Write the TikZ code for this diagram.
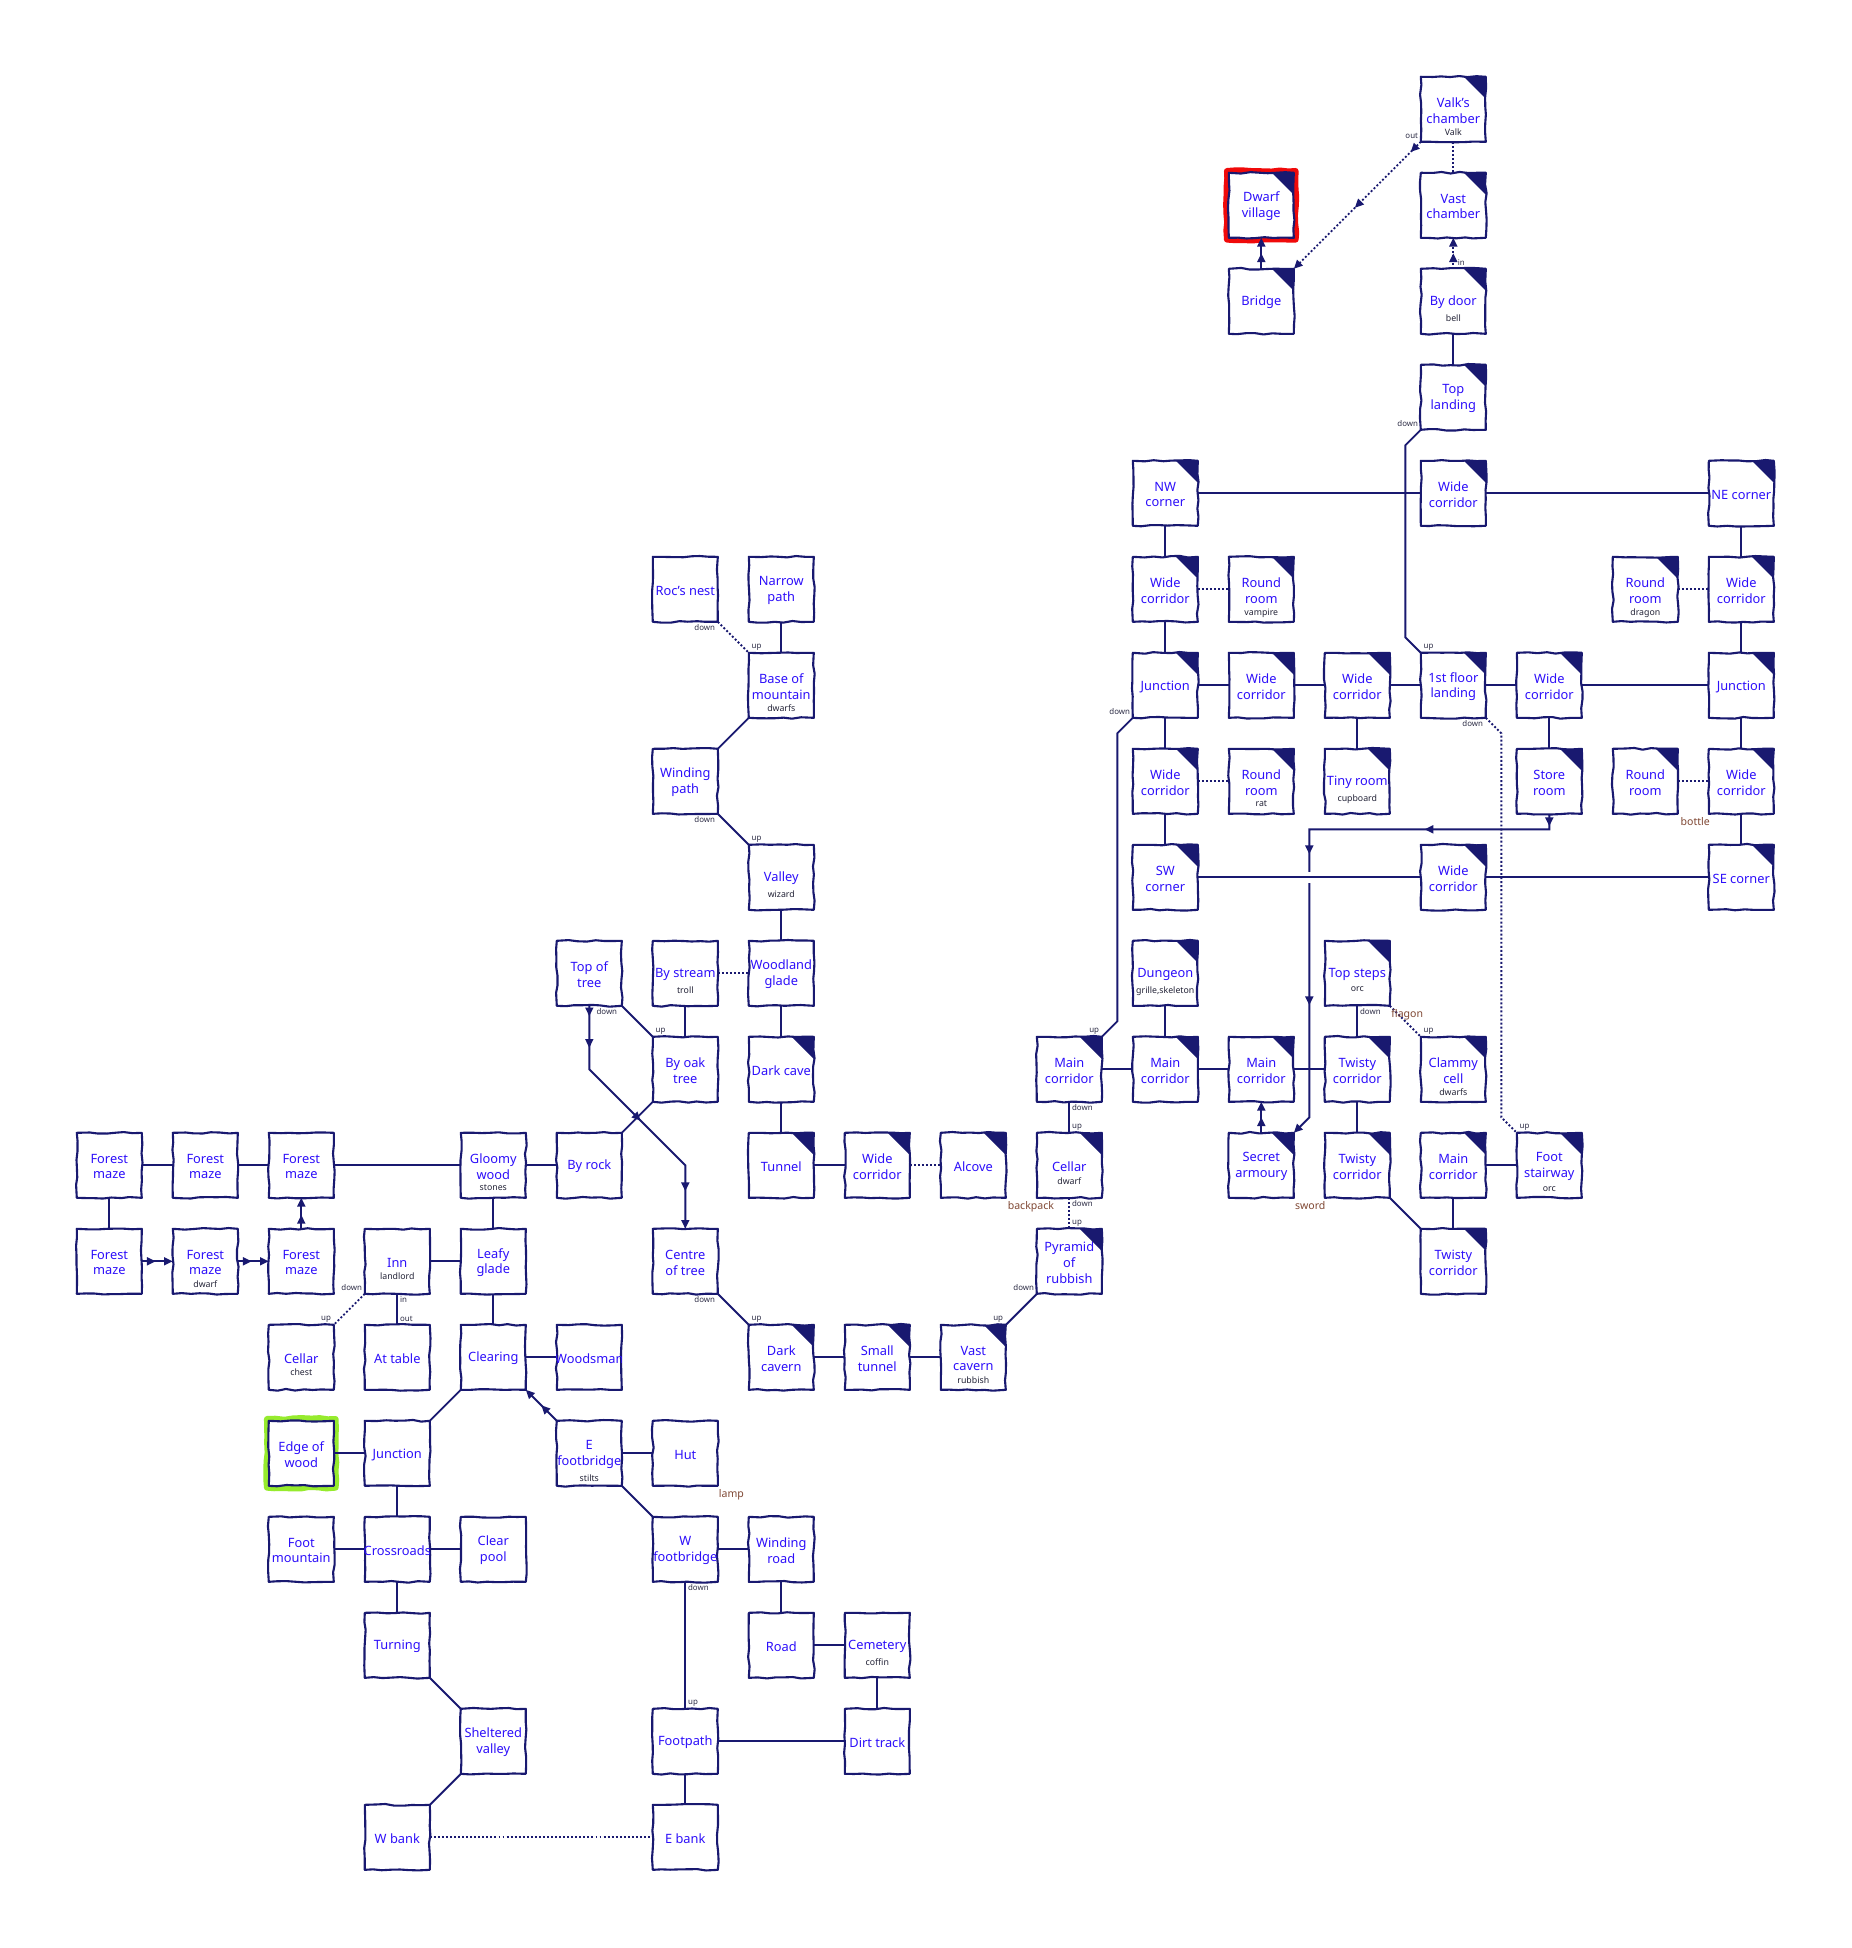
\documentclass[tikz,border=0pt]{standalone}
\usepackage{fontspec}
\setmainfont{Noto Sans}
\usetikzlibrary{arrows.meta,decorations.pathmorphing,decorations.markings,backgrounds,calc}
\definecolor{navy}{RGB}{25,25,112}
\definecolor{roomblue}{RGB}{45,15,250}
\definecolor{subdark}{RGB}{35,35,55}
\definecolor{labdark}{RGB}{45,45,70}
\definecolor{objbrown}{RGB}{128,72,52}
\definecolor{hlgreen}{RGB}{150,235,45}
\definecolor{hlred}{RGB}{240,10,10}
\tikzset{
 hand/.style={decorate, decoration={random steps, segment length=5pt, amplitude=0.5pt}, line join=round},
 roomst/.style={draw=navy, fill=white, line width=1.2pt, minimum size=1.3cm, inner sep=0pt, outer sep=0pt, hand},
 titlest/.style={align=center, font=\fontsize{7.3}{9}\selectfont, text=roomblue, inner sep=0pt},
 subst/.style={font=\fontsize{5}{6}\selectfont, text=subdark, inner sep=0pt},
 lab/.style={font=\fontsize{4.5}{5}\selectfont, text=labdark, inner sep=1.4pt},
 obj/.style={font=\fontsize{6}{7}\selectfont, text=objbrown, inner sep=0pt, anchor=north},
 conn/.style={draw=navy, line width=1.1pt},
 dots/.style={conn, dash pattern=on 1.1pt off 1.2pt},
 tipend/.style={-{Triangle[length=5pt,width=4.5pt]}},
 marrow/.style={postaction={decorate, decoration={markings, mark=at position #1 with {\arrow{Triangle[length=5pt,width=4.5pt]}}}}},
 hilite/.style={line width=3.5pt, hand},
}
\newcommand\room[5][]{%
  \node[roomst,#1] (#2) at (#3) {};
  \begin{scope}
    \clip (#2.south west) rectangle (#2.north east);
    \node[titlest] (#2-t) at ([yshift=-0.7pt]#2.center) {#4};
    \node[subst, anchor=north] (#2-s) at ([yshift=-2.9pt]#2-t.south) {#5};
  \end{scope}}
\newcommand\droom[5][]{\room[#1]{#2}{#3}{#4}{#5}%
  \fill[navy] (#2.north east) -- ++(-0.44cm,0pt) -- ++(0.44cm,-0.44cm) -- cycle;}
\begin{document}
\begin{tikzpicture}[x=1.92cm,y=-1.92cm]
\pgfmathsetseed{11}
\useasboundingbox (-1.1385,-1.1385) rectangle (18.153,19.153);
\begin{pgfonlayer}{background}
\fill[white] (-1.1385,-1.1385) rectangle (18.153,19.153);
\end{pgfonlayer}
% ---------------- rooms ----------------
\droom{valk}{14,0}{Valk's\\chamber}{Valk}
\droom{dwarfv}{12,1}{Dwarf\\village}{}
\droom{vastch}{14,1}{Vast\\chamber}{}
\droom{bridge}{12,2}{Bridge}{}
\droom{bydoor}{14,2}{By door}{bell}
\droom{topland}{14,3}{Top\\landing}{}
\droom{nwc}{11,4}{NW\\corner}{}
\droom{wc14}{14,4}{Wide\\corridor}{}
\droom{nec}{17,4}{NE corner}{}
\room{rocs}{6,5}{Roc's nest}{}
\room{narrow}{7,5}{Narrow\\path}{}
\droom{wc11a}{11,5}{Wide\\corridor}{}
\droom{rrvamp}{12,5}{Round\\room}{vampire}
\droom{rrdragon}{16,5}{Round\\room}{dragon}
\droom{wc17a}{17,5}{Wide\\corridor}{}
\room{basemt}{7,6}{Base of\\mountain}{dwarfs}
\droom{junc11}{11,6}{Junction}{}
\droom{wc12}{12,6}{Wide\\corridor}{}
\droom{wc13}{13,6}{Wide\\corridor}{}
\droom{firstfl}{14,6}{1st floor\\landing}{}
\droom{wc15}{15,6}{Wide\\corridor}{}
\droom{junc17}{17,6}{Junction}{}
\room{windpath}{6,7}{Winding\\path}{}
\droom{wc11b}{11,7}{Wide\\corridor}{}
\droom{rrrat}{12,7}{Round\\room}{rat}
\droom{tiny}{13,7}{Tiny room}{cupboard}
\droom{store}{15,7}{Store\\room}{}
\droom{rr16}{16,7}{Round\\room}{}
\droom{wc17b}{17,7}{Wide\\corridor}{}
\room{valley}{7,8}{Valley}{wizard}
\droom{swc}{11,8}{SW\\corner}{}
\droom{wc14b}{14,8}{Wide\\corridor}{}
\droom{sec}{17,8}{SE corner}{}
\room{toptree}{5,9}{Top of\\tree}{}
\room{bystream}{6,9}{By stream}{troll}
\room{woodglade}{7,9}{Woodland\\glade}{}
\droom{dungeon}{11,9}{Dungeon}{grille,skeleton}
\droom{topsteps}{13,9}{Top steps}{orc}
\room{byoak}{6,10}{By oak\\tree}{}
\droom{darkcave}{7,10}{Dark cave}{}
\droom{main10}{10,10}{Main\\corridor}{}
\droom{main11}{11,10}{Main\\corridor}{}
\droom{main12}{12,10}{Main\\corridor}{}
\droom{twisty13a}{13,10}{Twisty\\corridor}{}
\droom{clammy}{14,10}{Clammy\\cell}{dwarfs}
\room{fm0a}{0,11}{Forest\\maze}{}
\room{fm1a}{1,11}{Forest\\maze}{}
\room{fm2a}{2,11}{Forest\\maze}{}
\room{gloomy}{4,11}{Gloomy\\wood}{stones}
\room{byrock}{5,11}{By rock}{}
\droom{tunnel}{7,11}{Tunnel}{}
\droom{wc8}{8,11}{Wide\\corridor}{}
\droom{alcove}{9,11}{Alcove}{}
\droom{cellard}{10,11}{Cellar}{dwarf}
\droom{secret}{12,11}{Secret\\armoury}{}
\droom{twisty13b}{13,11}{Twisty\\corridor}{}
\droom{main14}{14,11}{Main\\corridor}{}
\droom{footst}{15,11}{Foot\\stairway}{orc}
\room{fm0b}{0,12}{Forest\\maze}{}
\room{fm1b}{1,12}{Forest\\maze}{dwarf}
\room{fm2b}{2,12}{Forest\\maze}{}
\room{inn}{3,12}{Inn}{landlord}
\room{leafy}{4,12}{Leafy\\glade}{}
\room{centre}{6,12}{Centre\\of tree}{}
\droom{pyramid}{10,12}{Pyramid\\of\\rubbish}{}
\droom{twisty14}{14,12}{Twisty\\corridor}{}
\room{cellarc}{2,13}{Cellar}{chest}
\room{attable}{3,13}{At table}{}
\room{clearing}{4,13}{Clearing}{}
\room{woodsman}{5,13}{Woodsman}{}
\droom{darkcav}{7,13}{Dark\\cavern}{}
\droom{smallt}{8,13}{Small\\tunnel}{}
\droom{vastcav}{9,13}{Vast\\cavern}{rubbish}
\room{edgewood}{2,14}{Edge of\\wood}{}
\room{junc3}{3,14}{Junction}{}
\room{efoot}{5,14}{E\\footbridge}{stilts}
\room{hut}{6,14}{Hut}{}
\room{footmt}{2,15}{Foot\\mountain}{}
\room{crossrd}{3,15}{Crossroads}{}
\room{clearpool}{4,15}{Clear\\pool}{}
\room{wfoot}{6,15}{W\\footbridge}{}
\room{windroad}{7,15}{Winding\\road}{}
\room{turning}{3,16}{Turning}{}
\room{road}{7,16}{Road}{}
\room{cemetery}{8,16}{Cemetery}{coffin}
\room{sheltered}{4,17}{Sheltered\\valley}{}
\room{footpath}{6,17}{Footpath}{}
\room{dirt}{8,17}{Dirt track}{}
\room{wbank}{3,18}{W bank}{}
\room{ebank}{6,18}{E bank}{}
% ---------------- connectors ----------------
\begin{pgfonlayer}{background}
\draw[hlred,hilite] ([shift={(-1pt,-1pt)}]dwarfv.south west) rectangle ([shift={(1pt,1pt)}]dwarfv.north east);
\draw[hlgreen,hilite] ([shift={(-1pt,-1pt)}]edgewood.south west) rectangle ([shift={(1pt,1pt)}]edgewood.north east);
% top area
\draw[dots,tipend,marrow=0.08,marrow=0.52] (valk.south west) -- (bridge.north east);
\draw[dots] (valk) -- (vastch);
\draw[conn,tipend,marrow=0.5] (bridge) -- (dwarfv);
\draw[dots,tipend,marrow=0.5] (bydoor) -- (vastch);
\draw[conn] (bydoor) -- (topland);
\draw[conn] (topland.south west) -- (13.5,3.5) -- (13.5,5.5) -- (firstfl.north west);
\draw[conn] (nwc) -- (wc14);
\draw[conn] (wc14) -- (nec);
\draw[conn] (nwc) -- (wc11a);
\draw[dots] (wc11a) -- (rrvamp);
\draw[conn] (wc11a) -- (junc11);
\draw[conn] (junc11) -- (wc12);
\draw[conn] (wc12) -- (wc13);
\draw[conn] (wc13) -- (firstfl);
\draw[conn] (firstfl) -- (wc15);
\draw[conn] (wc15) -- (junc17);
\draw[conn] (nec) -- (wc17a);
\draw[dots] (rrdragon) -- (wc17a);
\draw[conn] (wc17a) -- (junc17);
\draw[conn] (junc17) -- (wc17b);
\draw[dots] (rr16) -- (wc17b);
\draw[conn] (wc17b) -- (sec);
\draw[conn] (junc11) -- (wc11b);
\draw[dots] (wc11b) -- (rrrat);
\draw[conn] (wc11b) -- (swc);
\draw[conn] (wc13) -- (tiny);
\draw[conn] (wc15) -- (store);
\draw[conn] (wc14b) -- (sec);
\draw[conn] (junc11.south west) -- (10.5,6.5) -- (10.5,9.5) -- (main10.north east);
\draw[dots] (firstfl.south east) -- (14.5,6.5) -- (14.5,10.5) -- (footst.north west);
\draw[conn,tipend,marrow=0.022,marrow=0.248,marrow=0.496,marrow=0.763] (store.south) -- (15,7.5) -- (12.5,7.5) -- (12.5,10.5) -- (secret.north east);
\draw[conn,preaction={draw=white,line width=6pt}] (swc) -- (wc14b);
\draw[conn] (dungeon) -- (main11);
\draw[conn] (main10) -- (main11);
\draw[conn] (main11) -- (main12);
\draw[conn] (main12) -- (twisty13a);
\draw[conn,tipend,marrow=0.5] (secret) -- (main12);
\draw[conn] (topsteps) -- (twisty13a);
\draw[dots] (topsteps.south east) -- (clammy.north west);
\draw[conn] (twisty13a) -- (twisty13b);
\draw[conn] (twisty13b.south east) -- (twisty14.north west);
\draw[conn] (main14) -- (footst);
\draw[conn] (main14) -- (twisty14);
\draw[conn] (main10) -- (cellard);
\draw[dots] (cellard) -- (pyramid);
\draw[conn] (pyramid.south west) -- (vastcav.north east);
\draw[conn] (vastcav) -- (smallt);
\draw[conn] (smallt) -- (darkcav);
\draw[conn] (centre.south east) -- (darkcav.north west);
% middle area
\draw[dots] (rocs.south east) -- (basemt.north west);
\draw[conn] (narrow) -- (basemt);
\draw[conn] (basemt.south west) -- (windpath.north east);
\draw[conn] (windpath.south east) -- (valley.north west);
\draw[conn] (valley) -- (woodglade);
\draw[dots] (bystream) -- (woodglade);
\draw[conn] (bystream) -- (byoak);
\draw[conn] (toptree.south east) -- (byoak.north west);
\draw[conn] (byoak.south west) -- (byrock.north east);
\draw[conn,tipend,marrow=0.04,marrow=0.16,marrow=0.518,marrow=0.857] (toptree.south) -- (5,10) -- (6,11) -- (centre.north);
\draw[conn] (woodglade) -- (darkcave);
\draw[conn] (darkcave) -- (tunnel);
\draw[conn] (tunnel) -- (wc8);
\draw[dots] (wc8) -- (alcove);
% west area
\draw[conn] (byrock) -- (gloomy);
\draw[conn] (gloomy) -- (fm2a);
\draw[conn] (fm2a) -- (fm1a);
\draw[conn] (fm1a) -- (fm0a);
\draw[conn] (fm0a) -- (fm0b);
\draw[conn,tipend,marrow=0.45] (fm0b) -- (fm1b);
\draw[conn,tipend,marrow=0.45] (fm1b) -- (fm2b);
\draw[conn,tipend,marrow=0.45] (fm2b) -- (fm2a);
\draw[conn] (gloomy) -- (leafy);
\draw[conn] (inn) -- (leafy);
\draw[dots] (inn.south west) -- (cellarc.north east);
\draw[conn] (inn) -- (attable);
\draw[conn] (leafy) -- (clearing);
\draw[conn] (clearing) -- (woodsman);
\draw[conn] (clearing.south west) -- (junc3.north east);
\draw[conn,tipend,marrow=0.5] (efoot.north west) -- (clearing.south east);
\draw[conn] (efoot) -- (hut);
\draw[conn] (efoot.south east) -- (wfoot.north west);
\draw[conn] (edgewood) -- (junc3);
\draw[conn] (junc3) -- (crossrd);
\draw[conn] (footmt) -- (crossrd);
\draw[conn] (crossrd) -- (clearpool);
\draw[conn] (crossrd) -- (turning);
\draw[conn] (turning.south east) -- (sheltered.north west);
\draw[conn] (sheltered.south west) -- (wbank.north east);
\draw[dots] (wbank) -- (ebank);
\draw[conn] (wfoot) -- (windroad);
\draw[conn] (windroad) -- (road);
\draw[conn] (road) -- (cemetery);
\draw[conn] (cemetery) -- (dirt);
\draw[conn] (footpath) -- (dirt);
\draw[conn] (wfoot) -- (footpath);
\draw[conn] (footpath) -- (ebank);
\end{pgfonlayer}
% ---------------- connector labels ----------------
\node[lab,anchor=south east] (lb1) at (valk.south west) {out};
\node[lab,anchor=south west,xshift=1pt] (lb2) at (bydoor.north) {in};
\node[lab,anchor=south east] (lb3) at (topland.south west) {down};
\node[lab,anchor=south west] (lb4) at (firstfl.north west) {up};
\node[lab,anchor=north east] (lb5) at (firstfl.south east) {down};
\node[lab,anchor=south west] (lb6) at (footst.north west) {up};
\node[lab,anchor=south east] (lb7) at (junc11.south west) {down};
\node[lab,anchor=south east] (lb8) at (main10.north east) {up};
\node[lab,anchor=north east] (lb9) at (rocs.south east) {down};
\node[lab,anchor=south west] (lb10) at (basemt.north west) {up};
\node[lab,anchor=north east] (lb11) at (windpath.south east) {down};
\node[lab,anchor=south west] (lb12) at (valley.north west) {up};
\node[lab,anchor=north west,xshift=2.5pt] (lb13) at (toptree.south) {down};
\node[lab,anchor=south west] (lb14) at (byoak.north west) {up};
\node[lab,anchor=north east] (lb15) at (centre.south east) {down};
\node[lab,anchor=south west] (lb16) at (darkcav.north west) {up};
\node[lab,anchor=south east] (lb17) at (pyramid.south west) {down};
\node[lab,anchor=south east] (lb18) at (vastcav.north east) {up};
\node[lab,anchor=north west] (lb19) at (main10.south) {down};
\node[lab,anchor=south west] (lb20) at (cellard.north) {up};
\node[lab,anchor=north west] (lb21) at (cellard.south) {down};
\node[lab,anchor=south west] (lb22) at (pyramid.north) {up};
\node[lab,anchor=south east] (lb23) at (inn.south west) {down};
\node[lab,anchor=south east] (lb24) at (cellarc.north east) {up};
\node[lab,anchor=north west] (lb25) at (inn.south) {in};
\node[lab,anchor=south west] (lb26) at (attable.north) {out};
\node[lab,anchor=north west] (lb27) at (wfoot.south) {down};
\node[lab,anchor=south west] (lb28) at (footpath.north) {up};
\node[lab,anchor=north west] (lb29) at (topsteps.south) {down};
\node[lab,anchor=south west] (lb30) at (clammy.north west) {up};
% ---------------- objects ----------------
\node[obj] (ob1) at (9.6,11.37) {backpack};
\node[obj] (ob2) at (12.51,11.37) {sword};
\node[obj] (ob3) at (16.52,7.37) {bottle};
\node[obj] (ob4) at (6.48,14.37) {lamp};
\node[obj] (ob5) at (13.52,9.37) {flagon};
\end{tikzpicture}
\end{document}
